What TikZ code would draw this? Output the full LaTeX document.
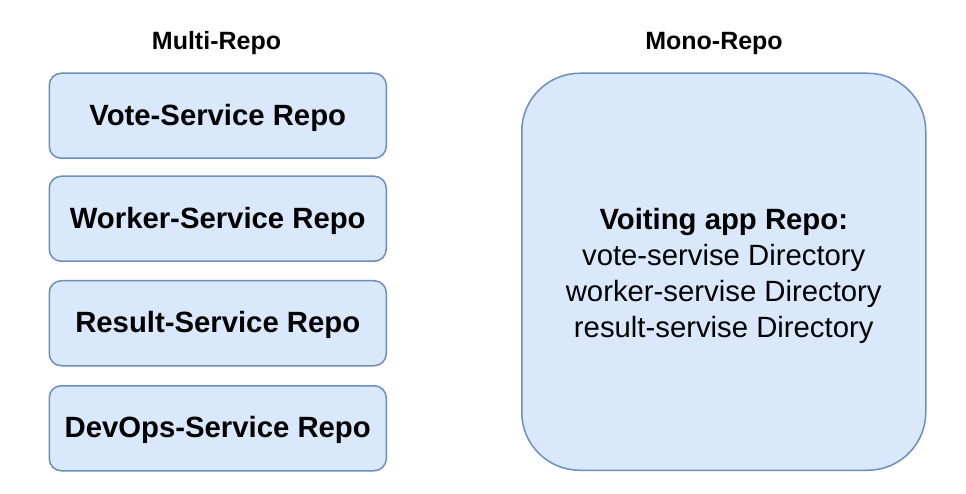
\documentclass[tikz,border=0pt]{standalone}
\usepackage{fontspec}
\setmainfont{Liberation Sans}
\definecolor{boxfill}{HTML}{DAE8FC}
\definecolor{boxline}{HTML}{6C8EBF}
\tikzset{
  repobox/.style={draw=boxline, fill=boxfill, line width=1.5pt, rounded corners=12pt, minimum width=337pt, minimum height=85pt, inner sep=0pt, anchor=north west},
  repotext/.style={font=\fontsize{29.3}{35}\selectfont\bfseries, inner sep=0pt},
  monobox/.style={draw=boxline, fill=boxfill, line width=1.5pt, rounded corners=58pt, minimum width=404pt, minimum height=397pt, inner sep=0pt, anchor=north west},
  monotext/.style={font=\fontsize{29.3}{36}\selectfont, align=center, inner sep=0pt},
  title/.style={font=\fontsize{25}{30}\selectfont\bfseries, inner sep=0pt, anchor=base}
}
\begin{document}
\begin{tikzpicture}[x=1pt,y=-1pt]
\useasboundingbox (0,0) rectangle (966,494);
\node[title] (t1) at (216.5,50) {Multi-Repo};
\node[title] (t2) at (714,50) {Mono-Repo};
\node[repobox] (b1) at (48.5,72.5) {};
\node[repobox] (b2) at (48.5,175.5) {};
\node[repobox] (b3) at (48.5,280) {};
\node[repobox] (b4) at (48.5,385) {};
\node[repotext] (l1) at ([yshift=-2pt]b1.center) {Vote-Service Repo};
\node[repotext] (l2) at ([yshift=-2pt]b2.center) {Worker-Service Repo};
\node[repotext] (l3) at ([yshift=-2pt]b3.center) {Result-Service Repo};
\node[repotext] (l4) at ([yshift=-2pt]b4.center) {DevOps-Service Repo};
\node[monobox] (m) at (521,72.5) {};
\node[monotext] (mt) at ([yshift=-4pt]m.center) {\textbf{Voiting app Repo:}\\vote-servise Directory\\worker-servise Directory\\result-servise Directory};
\end{tikzpicture}
\end{document}
